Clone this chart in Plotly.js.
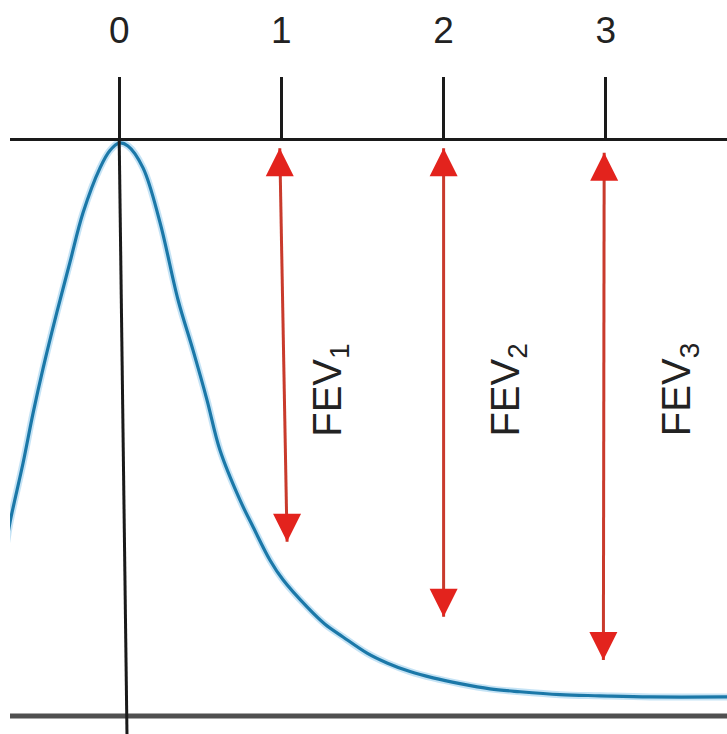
<!DOCTYPE html>
<html>
<head>
<meta charset="utf-8">
<script src="https://cdn.plot.ly/plotly-3.0.1.min.js"></script>
<style>
  html, body { margin: 0; padding: 0; background: #ffffff; }
  #chart { width: 727px; height: 734px; }
</style>
</head>
<body>
<div id="chart"></div>
<script>
// Expiratory flow over time (s); flow normalised to the peak (top line = 1)
const timeS = [-0.70, -0.673, -0.593, -0.531, -0.469, -0.384, -0.303, -0.223, -0.118, -0.057, 0.0,
               0.054, 0.147, 0.251, 0.363, 0.455, 0.541, 0.621, 0.745, 0.825, 0.930,
               1.010, 1.158, 1.269, 1.380, 1.528, 1.651, 1.793, 1.935, 2.101, 2.286,
               2.471, 2.718, 2.964, 3.273, 3.76];
const flow  = [0.290, 0.336, 0.438, 0.525, 0.603, 0.700, 0.787, 0.872, 0.950, 0.980, 0.993,
               0.988, 0.950, 0.856, 0.721, 0.634, 0.548, 0.461, 0.374, 0.328, 0.270,
               0.236, 0.189, 0.159, 0.137, 0.109, 0.092, 0.077, 0.066, 0.056, 0.047,
               0.042, 0.037, 0.035, 0.033, 0.033];

// Time ticks along the top line
const tickTimes  = [0, 1, 2, 3];
const tickLabels = ['0', '1', '2', '3'];

// Forced expiratory volume arrows: top and bottom ends (time, level)
const fevLabels  = ['FEV<sub>1</sub>', 'FEV<sub>2</sub>', 'FEV<sub>3</sub>'];
const fevTopT    = [0.990, 2.000, 2.990];
const fevTopY    = [0.984, 0.984, 0.976];
const fevBotT    = [1.035, 2.000, 2.985];
const fevBotY    = [0.302, 0.172, 0.097];

const xRange = [-0.6732, 3.7472];
const yRange = [-0.0312, 1.2409];
const topLevel = 1;     // level of the upper reference line
const baseLevel = 0;    // level of the baseline

const FONT = 'Liberation Sans, Arial, Helvetica, sans-serif';
const RED_HEAD = '#e3231d';
const RED_SHAFT = '#c93a2c';

const traces = [
  { // soft halo under the curve
    x: timeS, y: flow, type: 'scatter', mode: 'lines',
    line: { color: 'rgba(90,175,225,0.35)', width: 7, shape: 'spline', smoothing: 1 },
    hoverinfo: 'skip', showlegend: false
  },
  {
    x: timeS, y: flow, type: 'scatter', mode: 'lines',
    line: { color: '#1b78a8', width: 3.2, shape: 'spline', smoothing: 1 },
    showlegend: false
  }
];

// double-headed arrows: shaft line with arrow markers at both tips
fevLabels.forEach((lab, i) => {
  traces.push({
    x: [fevTopT[i], fevBotT[i]], y: [fevTopY[i], fevBotY[i]],
    type: 'scatter', mode: 'lines+markers',
    line: { color: RED_SHAFT, width: 3 },
    marker: { symbol: ['arrow-up', 'arrow-down'], size: 28, color: RED_HEAD,
              line: { width: 0 } },
    showlegend: false
  });
});

const labelShiftPx = [50, 64, 75];
const annotations = fevLabels.map((lab, i) => ({
  x: fevTopT[i], y: 0.565, xref: 'x', yref: 'y',
  xshift: labelShiftPx[i],
  text: lab, showarrow: false, textangle: -90,
  font: { family: FONT, size: 40, color: '#222222' }
}));

const axisPos = (topLevel - yRange[0]) / (yRange[1] - yRange[0]);

const layout = {
  width: 727, height: 734,
  margin: { l: 10, r: 0, t: 0, b: 0, pad: 0 },
  paper_bgcolor: '#ffffff', plot_bgcolor: '#ffffff',
  showlegend: false,
  xaxis: {
    range: xRange, side: 'top', anchor: 'free', position: axisPos,
    showgrid: false, zeroline: false,
    showline: true, linecolor: '#1a1a1a', linewidth: 3,
    ticks: 'outside', ticklen: 61, tickwidth: 3, tickcolor: '#1a1a1a',
    tickvals: tickTimes, ticktext: tickLabels,
    ticklabelstandoff: 19,
    tickfont: { family: FONT, size: 37, color: '#222222' },
    fixedrange: true
  },
  yaxis: {
    range: yRange, visible: false, showgrid: false, zeroline: false, fixedrange: true
  },
  shapes: [
    { // baseline
      type: 'line', xref: 'paper', yref: 'y', x0: 0, x1: 1, y0: baseLevel, y1: baseLevel,
      line: { color: '#505050', width: 5 }, layer: 'above'
    },
    { // time-zero line, running down from the top line
      type: 'line', xref: 'x', yref: 'y', x0: 0, y0: topLevel, x1: 0.048, y1: yRange[0],
      line: { color: '#1a1a1a', width: 3 }, layer: 'above'
    }
  ],
  annotations: annotations
};

Plotly.newPlot('chart', traces, layout, { staticPlot: true, displayModeBar: false });
</script>
</body>
</html>
